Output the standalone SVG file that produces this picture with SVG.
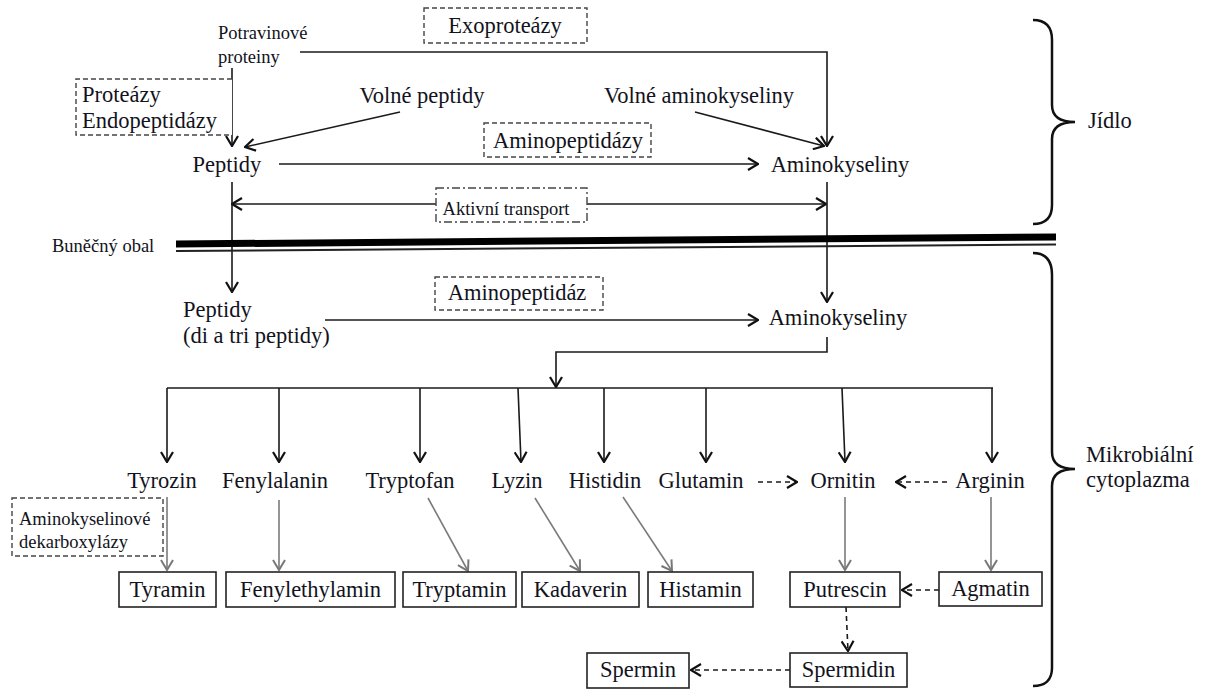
<svg xmlns="http://www.w3.org/2000/svg" width="1208" height="691" viewBox="0 0 1208 691">
<style>
text{font-family:"Liberation Serif","Times New Roman",serif;fill:#121220}
.L{font-size:22.5px}
.S{font-size:18.5px}
.m{text-anchor:middle}
.ln{stroke:#1a1a1a;stroke-width:1.6;fill:none}
.gr{stroke:#7a7a7a;stroke-width:1.6;fill:none}
.da{stroke:#1a1a1a;stroke-width:1.6;fill:none;stroke-dasharray:5,4}
.db{stroke:#444;stroke-width:1.4;fill:#fff;stroke-dasharray:5,3}
.bx{stroke:#222;stroke-width:1.6;fill:#fff}
.br{stroke:#111;stroke-width:2.5;fill:none}
</style>
<defs>
<marker id="ab" viewBox="0 0 12 14" refX="11" refY="7" markerWidth="12" markerHeight="14" markerUnits="userSpaceOnUse" orient="auto-start-reverse">
<path d="M1,1 L11,7 L1,13" fill="none" stroke="#111" stroke-width="2.2"/>
</marker>
<marker id="ag" viewBox="0 0 12 14" refX="11" refY="7" markerWidth="12" markerHeight="14" markerUnits="userSpaceOnUse" orient="auto">
<path d="M1,1 L11,7 L1,13" fill="none" stroke="#777" stroke-width="2"/>
</marker>
</defs>
<rect width="1208" height="691" fill="#fff"/>

<g id="connectors">
<polyline class="ln" points="300,52 827,52 827,146" marker-end="url(#ab)"/>
<line class="ln" x1="232" y1="68" x2="232" y2="146" marker-end="url(#ab)"/>
<line class="ln" x1="400" y1="112" x2="245" y2="147" marker-end="url(#ab)"/>
<line class="ln" x1="695" y1="112" x2="824" y2="146" marker-end="url(#ab)"/>
<line class="ln" x1="279" y1="164" x2="758" y2="164" marker-end="url(#ab)"/>
<line class="ln" x1="232" y1="204" x2="826" y2="204" marker-start="url(#ab)" marker-end="url(#ab)"/>
<line class="ln" x1="232" y1="182" x2="232" y2="292" marker-end="url(#ab)"/>
<line class="ln" x1="827" y1="182" x2="827" y2="302" marker-end="url(#ab)"/>
<line class="ln" x1="325" y1="320" x2="758" y2="320" marker-end="url(#ab)"/>
<polyline class="ln" points="827,337 827,352 556,352 556,387" marker-end="url(#ab)"/>
<line class="ln" x1="167" y1="388" x2="993" y2="388"/>
<line class="ln" x1="167" y1="388" x2="167" y2="462" marker-end="url(#ab)"/>
<line class="ln" x1="279" y1="388" x2="279" y2="462" marker-end="url(#ab)"/>
<line class="ln" x1="420" y1="388" x2="420" y2="462" marker-end="url(#ab)"/>
<line class="ln" x1="518" y1="388" x2="521" y2="462" marker-end="url(#ab)"/>
<line class="ln" x1="604" y1="388" x2="604" y2="462" marker-end="url(#ab)"/>
<line class="ln" x1="706" y1="388" x2="706" y2="462" marker-end="url(#ab)"/>
<line class="ln" x1="842" y1="388" x2="845" y2="462" marker-end="url(#ab)"/>
<line class="ln" x1="992" y1="388" x2="992" y2="462" marker-end="url(#ab)"/>
<line class="da" x1="758" y1="482" x2="797" y2="482" marker-end="url(#ab)"/>
<line class="da" x1="947" y1="482" x2="896" y2="482" marker-end="url(#ab)"/>
<line class="gr" x1="167" y1="497" x2="167" y2="570" marker-end="url(#ag)"/>
<line class="gr" x1="279" y1="500" x2="279" y2="570" marker-end="url(#ag)"/>
<line class="gr" x1="428" y1="498" x2="468" y2="571" marker-end="url(#ag)"/>
<line class="gr" x1="535" y1="498" x2="580" y2="571" marker-end="url(#ag)"/>
<line class="gr" x1="623" y1="497" x2="672" y2="571" marker-end="url(#ag)"/>
<line class="gr" x1="845" y1="497" x2="845" y2="570" marker-end="url(#ag)"/>
<line class="gr" x1="991" y1="497" x2="991" y2="570" marker-end="url(#ag)"/>
<line class="da" x1="939" y1="590" x2="902" y2="590" marker-end="url(#ab)"/>
<line class="da" x1="846" y1="607" x2="848" y2="651" marker-end="url(#ab)"/>
<line class="da" x1="790" y1="670" x2="691" y2="670" marker-end="url(#ab)"/>
</g>

<g id="membrane">
<line x1="176" y1="244" x2="1056" y2="237" stroke="#000" stroke-width="7"/>
<line x1="176" y1="251" x2="1056" y2="244.5" stroke="#222" stroke-width="2"/>
<text class="S" x="52" y="252">Buněčný obal</text>
</g>

<g id="braces">
<path class="br" d="M1033,20 C1045,20 1052,26 1052,40 L1052,105 C1052,116 1060,122 1075,122 C1060,122 1052,128 1052,139 L1052,205 C1052,218 1045,224 1033,224"/>
<path class="br" d="M1033,253 C1045,253 1052,260 1052,275 L1052,452 C1052,463 1060,469 1075,469 C1060,469 1052,475 1052,486 L1052,668 C1052,680 1045,686 1033,686"/>
<text class="L" x="1088" y="128">Jídlo</text>
<text class="L" x="1086" y="462">Mikrobiální</text>
<text class="L" x="1086" y="487">cytoplazma</text>
</g>

<g id="n-potravinove"><text class="S" x="218" y="39">Potravinové</text><text class="S" x="218" y="63">proteiny</text></g>
<g id="e-exoproteazy"><rect class="db" x="424" y="8" width="163" height="35"/><text class="L m" x="505" y="33">Exoproteázy</text></g>
<g id="e-proteazy"><path class="db" d="M232,79 L76,79 L76,135 L232,135"/><text class="L" x="82" y="102">Proteázy</text><text class="L" x="82" y="128">Endopeptidázy</text></g>
<g id="n-volne-peptidy"><text class="L m" x="422" y="103">Volné peptidy</text></g>
<g id="n-volne-ak"><text class="L m" x="699" y="103">Volné aminokyseliny</text></g>
<g id="e-aminopeptidazy"><rect class="db" x="484" y="123" width="167" height="34"/><text class="L m" x="568" y="148">Aminopeptidázy</text></g>
<g id="n-peptidy1"><text class="L m" x="227" y="172">Peptidy</text></g>
<g id="n-ak1"><text class="L m" x="840" y="172">Aminokyseliny</text></g>
<g id="e-transport"><rect x="436" y="188" width="151" height="34" fill="#fff" stroke="#444" stroke-width="1.4" stroke-dasharray="8,3,2,3"/><text class="S m" x="506" y="215">Aktivní transport</text></g>
<g id="n-peptidy2"><text class="L" x="183" y="317">Peptidy</text><text class="L" x="183" y="343">(di a tri peptidy)</text></g>
<g id="e-aminopeptidaz"><rect class="db" x="435" y="277" width="168" height="33"/><text class="L m" x="517" y="300">Aminopeptidáz</text></g>
<g id="n-ak2"><text class="L m" x="838" y="325">Aminokyseliny</text></g>

<g id="n-tyrozin"><text class="L m" x="162" y="488">Tyrozin</text></g>
<g id="n-fenylalanin"><text class="L m" x="275" y="488">Fenylalanin</text></g>
<g id="n-tryptofan"><text class="L m" x="410" y="488">Tryptofan</text></g>
<g id="n-lyzin"><text class="L m" x="517" y="488">Lyzin</text></g>
<g id="n-histidin"><text class="L m" x="605" y="488">Histidin</text></g>
<g id="n-glutamin"><text class="L m" x="701" y="488">Glutamin</text></g>
<g id="n-ornitin"><text class="L m" x="843" y="488">Ornitin</text></g>
<g id="n-arginin"><text class="L m" x="990" y="488">Arginin</text></g>

<g id="e-dekarboxylazy"><rect class="db" x="12" y="498" width="151" height="58"/><text class="S" x="19" y="525">Aminokyselinové</text><text class="S" x="19" y="548">dekarboxylázy</text></g>

<g id="n-tyramin"><rect class="bx" x="119" y="572" width="97" height="35"/><text class="L m" x="167.5" y="597">Tyramin</text></g>
<g id="n-fenylethylamin"><rect class="bx" x="226" y="572" width="169" height="35"/><text class="L m" x="310.5" y="597">Fenylethylamin</text></g>
<g id="n-tryptamin"><rect class="bx" x="403" y="572" width="113" height="35"/><text class="L m" x="459.5" y="597">Tryptamin</text></g>
<g id="n-kadaverin"><rect class="bx" x="522" y="572" width="117" height="35"/><text class="L m" x="580.5" y="597">Kadaverin</text></g>
<g id="n-histamin"><rect class="bx" x="648" y="572" width="105" height="35"/><text class="L m" x="700.5" y="597">Histamin</text></g>
<g id="n-putrescin"><rect class="bx" x="790" y="572" width="110" height="35"/><text class="L m" x="845" y="597">Putrescin</text></g>
<g id="n-agmatin"><rect class="bx" x="939" y="572" width="103" height="34"/><text class="L m" x="990.5" y="596">Agmatin</text></g>
<g id="n-spermidin"><rect class="bx" x="790" y="653" width="117" height="34"/><text class="L m" x="848.5" y="677">Spermidin</text></g>
<g id="n-spermin"><rect class="bx" x="587" y="653" width="102" height="35"/><text class="L m" x="638" y="677">Spermin</text></g>
</svg>
